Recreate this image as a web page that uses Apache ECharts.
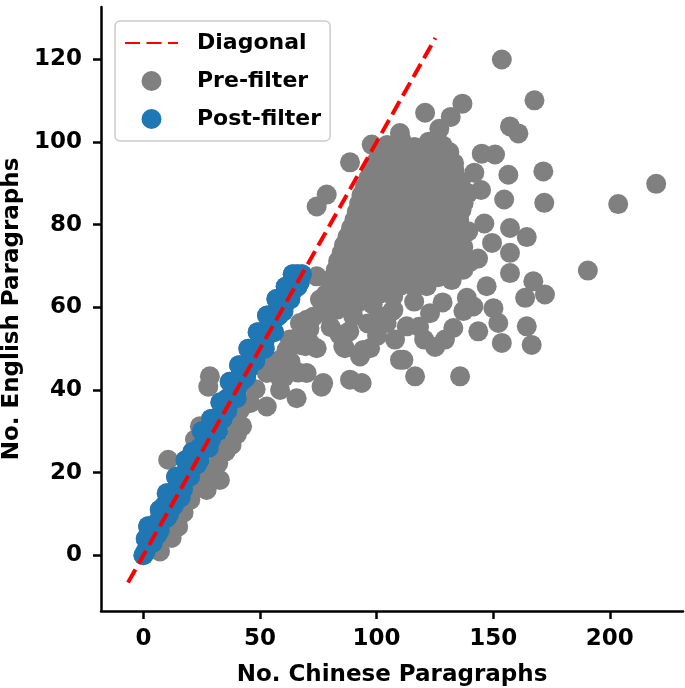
<!DOCTYPE html>
<html>
<head>
<meta charset="utf-8">
<script src="https://cdn.jsdelivr.net/npm/echarts@6/dist/echarts.min.js"></script>
<style>html,body{margin:0;padding:0;background:#fff;}#c{width:685px;height:688px;}</style>
</head>
<body>
<div id="c"></div>
<script>
// ---- data ----
const xTicks = [0, 50, 100, 150, 200];
const yTicks = [0, 20, 40, 60, 80, 100, 120];
const diagonalEnds = [-6.6, 125.2];

// points visible only in the pre-filter set (gray)
const preFilterOnly = [
  // far outliers
  [153.7,120.0],[167.7,110.1],[219.9,89.9],[203.6,85.0],[190.6,68.9],
  [157.2,103.8],[160.8,102.1],[171.5,92.9],[156.5,92.1],[154.7,86.1],[171.9,85.3],
  [136.8,109.3],[120.8,107.1],[131.8,106.1],[126.9,103.2],[88.6,95.1],[78.6,87.3],
  [74.3,84.4],[97.9,99.4],[110.0,102.2],[145.1,97.2],[150.8,97.0],
  [157.2,79.2],[164.4,77.0],[157.2,73.2],[157.2,68.3],[167.2,66.3],[172.2,63.1],
  [163.7,62.3],[164.4,55.4],[166.5,50.9],[153.7,51.4],[152.2,56.2],[143.6,54.2],
  [150.1,59.8],[135.8,43.3],[116.5,43.3],[129.3,52.2],[132.9,55.0],[122.9,58.6],
  [111.5,47.3],[107.9,52.2],[112.9,55.4],[94.3,49.7],[86.4,50.1],[88.6,42.5],
  [93.6,41.7],[77.1,41.7],[77.9,58.6],[71.4,51.4],[106.5,59.0],[121.5,65.1],
  [141.5,60.2],[147.2,65.1],[138.7,62.3],[143.5,71.8],[146.2,80.3],[144.8,88.4],
  [149.5,75.6],[141.9,92.6],
  [80.3,55.2],[84.1,53.4],[100.2,53.1],[104.3,56.2],[118.2,55.3],[125.1,50.4],
  [120.4,52.2],[137.2,59.1],[128.3,61.2],[116.1,61.4],[96.2,56.1],[88.3,54.2],
  // mid band
  [28.5,43.3],[27.8,40.8],[52.9,36.0],[65.7,38.0],[76.4,40.8],[58.6,42.9],
  [70.0,44.1],[74.3,50.1],[70.0,57.0],[85.7,50.5],[97.2,50.1],[92.9,48.1],
  [107.2,59.4],[110.0,47.3],[90.0,57.8],[101.5,57.8],[82.9,59.4],[62.8,52.2],
  [58.6,47.3],[45.7,36.8],[41.4,35.2],[72.8,57.7],[67.1,56.2],[61.4,49.7],
  [65.2,52.4],[63.1,46.8],[66.3,44.2],[69.4,50.6],[71.2,54.8],[60.3,43.1],
  [74.3,67.5],[75.7,61.9],[67.2,50.9],
  // low band around diagonal
  [5.7,1.3],[7.1,0.9],[12.7,6.9],[12.1,4.2],[14.9,6.9],[17.2,10.3],[20.1,13.4],
  [22.3,16.1],[27.1,15.8],[25.2,18.3],[30.2,20.4],[32.8,18.2],[32.1,22.3],
  [35.3,25.1],[37.8,26.7],[40.1,29.3],[42.3,31.2],[44.3,36.8],[48.1,40.2],
  [52.9,44.1],[55.2,46.0],[58.6,40.0],[10.6,23.1],[24.2,31.2],[31.4,32.0],
  [19.9,21.9],[22.1,28.0],[30.7,26.7],[37.1,32.8],[39.3,38.1],
  // dense cluster
  [104.5,99.3],[110.5,100.6],[116.2,98.8],[122.4,100.1],[128.3,99.2],
  [102.5,97.6],[106.4,97.9],[112.8,97.2],[119.1,97.8],[125.3,97.1],[131.2,97.6],
  [100.0,95.4],[103.4,94.6],[109.2,96.1],[115.6,95.2],[121.3,94.7],[127.5,95.8],[133.2,94.9],
  [98.5,93.1],[103.2,92.8],[109.1,93.4],[115.3,92.7],[121.2,93.3],[127.1,92.9],[133.4,93.2],
  [96.5,91.3],[100.4,90.6],[106.3,91.8],[112.1,90.9],[118.4,91.5],[124.2,90.7],[130.3,91.2],[136.1,90.4],
  [95.0,89.2],[99.4,88.8],[105.2,89.4],[111.3,88.7],[117.4,89.1],[123.3,88.9],[129.5,89.3],[135.2,88.6],
  [93.5,87.2],[97.5,86.6],[103.1,87.7],[109.4,86.9],[115.2,87.5],[121.6,86.4],[127.3,87.3],[133.5,86.8],[139.2,87.6],
  [92.5,85.1],[95.8,84.8],[101.4,85.3],[107.3,84.7],[113.2,85.2],[119.5,84.9],[125.4,85.1],[131.1,84.6],[137.3,85.2],
  [91.5,83.1],[94.9,82.7],[100.1,83.6],[106.5,82.9],[112.3,83.4],[118.1,82.6],[124.6,83.3],[130.2,82.8],[136.4,83.5],
  [90.5,81.2],[93.8,80.9],[99.2,81.3],[105.4,80.8],[111.2,81.1],[117.3,80.7],[123.4,81.3],[129.1,80.9],[135.4,81.2],
  [89.0,79.2],[92.1,78.6],[97.4,79.5],[103.2,78.8],[109.5,79.3],[115.3,78.5],[121.1,79.4],[127.4,78.7],[133.2,79.1],[139.3,78.4],
  [87.5,77.1],[90.2,76.8],[94.3,77.3],[100.4,76.9],[106.3,77.2],[112.1,76.7],[118.2,77.1],[124.3,76.8],[130.1,77.3],[136.2,76.9],
  [86.0,75.1],[89.4,74.6],[95.1,75.4],[101.3,74.8],[107.2,75.3],[113.5,74.5],[119.3,75.2],[125.1,74.7],[131.4,75.5],[137.2,74.6],
  [85.0,73.2],[88.1,72.8],[93.4,73.1],[99.2,72.7],[105.3,73.3],[111.4,72.9],[117.2,73.2],[123.1,72.8],[129.4,73.1],[135.2,72.7],
  [83.5,71.2],[86.3,70.6],[92.2,71.4],[98.5,70.8],[104.1,71.3],[110.3,70.5],[116.4,71.1],[122.2,70.7],[128.1,71.4],[134.3,70.6],[140.1,71.0],
  [82.5,69.1],[84.2,68.8],[89.3,69.2],[95.1,68.7],[101.2,69.3],[107.4,68.9],[113.3,69.1],[119.2,68.6],[125.3,69.2],[131.1,68.8],[137.2,69.1],
  [81.0,67.1],[84.4,66.6],[90.1,67.3],[96.3,66.8],[102.2,67.4],[108.4,66.5],[114.1,67.2],[120.3,66.7],[126.5,67.3],[132.2,66.6],
  [80.2,64.9],[86.4,65.2],[92.3,64.8],[98.1,65.1],[104.4,64.7],[110.2,65.2],[116.3,64.9],
  [78.3,63.2],[83.1,62.7],[89.5,63.4],[95.2,62.8],[101.4,63.3],[107.1,62.6],
  [80.4,61.0],[86.2,60.8],[92.1,61.2],[98.3,60.7]
];

// post-filter points (blue)
const postFilter = [
  [0,0],[1,1],[2,7],[1,4],[3,4],[4,3],[5,6],[6,8],[7,6],[8,9],[9,12],[10,9],[11,13],[12,14],
  [13,12],[14,16],[15,15],[16,18],[17,16],[18,20],[19,19],[20,21],[21,22],[22,24],[23,22],
  [24,26],[25,25],[26,27],[27,28],[28,29],[29,28],[30,31],[31,32],[32,33],[33,34],[34,33],
  [35,36],[36,38],[37,37],[38,39],[39,41],[40,40],[41,43],[42,42],[43,44],[44,46],[45,45],
  [46,48],[47,47],[48,50],[49,49],[50,51],[51,53],[52,52],[53,54],[54,56],[55,55],[56,57],
  [57,59],[58,58],[59,60],[60,62],[61,61],[62,63],[63,65],[64,64],[65,66],[66,68],[67,66],[68,68],
  [7,11],[10,15],[14,19],[18,23],[21,25],[25,30],[29,33],[33,37],[37,42],[41,46],[45,50],
  [49,54],[53,58],[57,62],[61,65],[64,68],
  [6,5],[11,10],[16,14],[20,19],[24,23],[28,26],[32,30],[36,35],[40,38],[44,43],[48,47],
  [52,50],[56,54],[60,59],[63,62],[66,65]
];

const preFilter = preFilterOnly.concat(postFilter);
const diagonal = diagonalEnds.map(v => [v, v]);

// ---- chart ----
const FONT = 'DejaVu Sans';
const chart = echarts.init(document.getElementById('c'), null, {renderer: 'canvas'});
chart.setOption({
  animation: false,
  backgroundColor: '#ffffff',
  textStyle: {fontFamily: FONT},
  grid: {left: 101, right: 2, top: 7, bottom: 77, containLabel: false, outerBoundsMode: 'none'},
  legend: {
    data: [
      {name: 'Diagonal', itemStyle: {color: 'rgba(0,0,0,0)', borderWidth: 0, opacity: 0}},
      'Pre-filter', 'Post-filter'
    ],
    orient: 'vertical',
    left: 115, top: 21,
    padding: [11, 9, 11, 9],
    itemWidth: 53, itemHeight: 20, itemGap: 16,
    selectedMode: false,
    backgroundColor: 'rgba(255,255,255,0.8)',
    borderColor: '#cccccc', borderWidth: 1.5, borderRadius: 5,
    textStyle: {fontFamily: FONT, fontSize: 22, fontWeight: 'bold', color: '#000', padding: [0, 0, 0, 14]}
  },
  xAxis: {
    type: 'value', min: -18.2, max: 231.4,
    name: 'No. Chinese Paragraphs', nameLocation: 'middle', nameGap: 53,
    nameTextStyle: {fontFamily: FONT, fontSize: 23, fontWeight: 'bold', color: '#000'},
    splitLine: {show: false},
    axisLine: {onZero: false, lineStyle: {color: '#000', width: 2.5}},
    axisTick: {show: true, length: 8, lineStyle: {color: '#000', width: 2.5}, customValues: xTicks},
    axisLabel: {fontFamily: FONT, fontSize: 23, fontWeight: 'bold', color: '#000', margin: 17, customValues: xTicks}
  },
  yAxis: {
    type: 'value', min: -13.5, max: 132.7,
    name: 'No. English Paragraphs', nameLocation: 'middle', nameGap: 73,
    nameTextStyle: {fontFamily: FONT, fontSize: 23, fontWeight: 'bold', color: '#000'},
    splitLine: {show: false},
    axisLine: {onZero: false, lineStyle: {color: '#000', width: 2.5}},
    axisTick: {show: true, length: 8, lineStyle: {color: '#000', width: 2.5}, customValues: yTicks},
    axisLabel: {fontFamily: FONT, fontSize: 23, fontWeight: 'bold', color: '#000', margin: 19, customValues: yTicks}
  },
  series: [
    {
      name: 'Pre-filter', type: 'scatter', data: preFilter,
      symbol: 'circle', symbolSize: 20,
      itemStyle: {color: '#808080', opacity: 1}, z: 2
    },
    {
      name: 'Post-filter', type: 'scatter', data: postFilter,
      symbol: 'circle', symbolSize: 20,
      itemStyle: {color: '#1f77b4', opacity: 1}, z: 3
    },
    {
      name: 'Diagonal', type: 'line', data: diagonal,
      symbol: 'none', silent: true,
      lineStyle: {color: '#ff0000', width: 4, type: [15, 6.5]},
      itemStyle: {color: '#ff0000'}, z: 4
    }
  ]
});
</script>
</body>
</html>
